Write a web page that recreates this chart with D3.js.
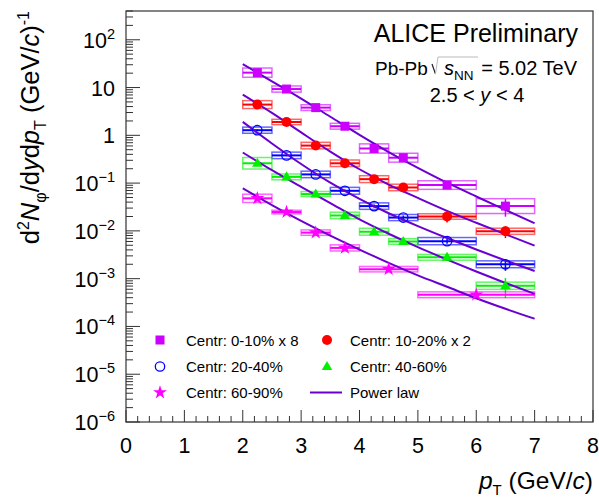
<!DOCTYPE html>
<html>
<head>
<meta charset="utf-8">
<script src="https://cdn.jsdelivr.net/npm/d3@7"></script>
<style>
  body { margin: 0; background: #fff; }
  svg text { font-family: "Liberation Sans", Arial, Helvetica, sans-serif; fill: #000; }
</style>
</head>
<body>
<svg id="chart" width="599" height="498"></svg>
<script>
// pT bins (GeV/c)
const binLo = [2.0, 2.5, 3.0, 3.5, 4.0, 4.5, 5.0, 6.0];
const binHi = [2.5, 3.0, 3.5, 4.0, 4.5, 5.0, 6.0, 7.0];
const ptC = [2.25, 2.75, 3.25, 3.75, 4.25, 4.75, 5.5, 6.5];
const binLo6090 = [2.0, 2.5, 3.0, 3.5, 4.0, 5.0];
const binHi6090 = [2.5, 3.0, 3.5, 4.0, 5.0, 7.0];
const ptC6090 = [2.25, 2.75, 3.25, 3.75, 4.5, 6.0];

// yields
const yield0010 = [20.5, 9.3, 3.8, 1.55, 0.53, 0.34, 0.091, 0.033];
const yield1020 = [4.4, 1.9, 0.61, 0.26, 0.121, 0.081, 0.020, 0.0098];
const yield2040 = [1.28, 0.38, 0.152, 0.069, 0.033, 0.019, 0.0061, 0.0020];
const yield4060 = [0.26, 0.135, 0.059, 0.021, 0.0096, 0.0060, 0.0028, 0.00071];
const yield6090 = [0.048, 0.0248, 0.0092, 0.0044, 0.00158, 0.00046];

// relative systematic (boxes) and statistical (bars) uncertainties
const sys0010 = [0.25, 0.16, 0.15, 0.15, 0.25, 0.24, 0.23, 0.43];
const sys1020 = [0.21, 0.14, 0.17, 0.17, 0.18, 0.17, 0.14, 0.16];
const sys2040 = [0.16, 0.17, 0.17, 0.18, 0.17, 0.16, 0.19, 0.18];
const sys4060 = [0.32, 0.15, 0.13, 0.17, 0.18, 0.15, 0.15, 0.19];
const sys6090 = [0.22, 0.09, 0.14, 0.16, 0.14, 0.15];
const stat0010 = [0.03, 0.03, 0.04, 0.05, 0.08, 0.1, 0.15, 0.4];
const stat1020 = [0.03, 0.03, 0.04, 0.05, 0.07, 0.1, 0.25, 0.28];
const stat2040 = [0.03, 0.04, 0.05, 0.06, 0.08, 0.1, 0.12, 0.27];
const stat4060 = [0.04, 0.05, 0.06, 0.08, 0.1, 0.12, 0.15, 0.45];
const stat6090 = [0.05, 0.06, 0.07, 0.09, 0.12, 0.15];

// power law fits, sampled
const plX = [2.0, 2.5, 3.0, 3.5, 4.0, 4.5, 5.0, 5.5, 6.0, 6.5, 7.0];
const pl0010 = [30.9, 13.5, 5.89, 2.45, 1.02, 0.447, 0.209, 0.102, 0.0525, 0.0275, 0.0145];
const pl1020 = [7.08, 2.95, 1.15, 0.457, 0.195, 0.0933, 0.049, 0.0263, 0.0148, 0.0085, 0.0049];
const pl2040 = [1.91, 0.676, 0.251, 0.102, 0.0468, 0.0234, 0.0126, 0.00708, 0.00407, 0.0024, 0.00145];
const pl4060 = [0.437, 0.186, 0.0832, 0.038, 0.0174, 0.0087, 0.00457, 0.00251, 0.00141, 0.000813, 0.000479];
const pl6090 = [0.0776, 0.0347, 0.0162, 0.00794, 0.00407, 0.00214, 0.00117, 0.000676, 0.000389, 0.000234, 0.000145];

const xTicks = [0, 1, 2, 3, 4, 5, 6, 7, 8];
const yTickExp = [-6, -5, -4, -3, -2, -1, 0, 1, 2];

const series = [
    {label: 'Centr: 0-10% x 8', color: '#cc00ff', marker: 'square', lo: binLo, hi: binHi, x: ptC, y: yield0010, sys: sys0010, stat: stat0010},
    {label: 'Centr: 10-20% x 2', color: '#ff0000', marker: 'circle', lo: binLo, hi: binHi, x: ptC, y: yield1020, sys: sys1020, stat: stat1020},
    {label: 'Centr: 20-40%', color: '#0000ff', marker: 'opencircle', lo: binLo, hi: binHi, x: ptC, y: yield2040, sys: sys2040, stat: stat2040},
    {label: 'Centr: 40-60%', color: '#00f000', marker: 'triangle', lo: binLo, hi: binHi, x: ptC, y: yield4060, sys: sys4060, stat: stat4060},
    {label: 'Centr: 60-90%', color: '#ff00ff', marker: 'star', lo: binLo6090, hi: binHi6090, x: ptC6090, y: yield6090, sys: sys6090, stat: stat6090}
];
const fits = [pl0010, pl1020, pl2040, pl4060, pl6090];
const fitColor = '#6a00d0';

const svg = d3.select('#chart');
const frame = {left: 126, right: 593, top: 11, bottom: 422};

const x = d3.scaleLinear().domain([0, 8]).range([frame.left, frame.right]);
const y = d3.scaleLog().domain([1e-6, 400]).range([frame.bottom, frame.top]);

// frame
svg.append('rect')
    .attr('x', frame.left).attr('y', frame.top)
    .attr('width', frame.right - frame.left).attr('height', frame.bottom - frame.top)
    .attr('fill', 'none').attr('stroke', '#333').attr('stroke-width', 1.2);

// x ticks
const xAxis = svg.append('g').attr('stroke', '#333').attr('stroke-width', 1);
d3.range(0, 8.0001, 0.2).forEach(v => {
    const major = Math.abs(v - Math.round(v)) < 1e-6;
    xAxis.append('line')
        .attr('x1', x(v)).attr('x2', x(v))
        .attr('y1', frame.bottom).attr('y2', frame.bottom - (major ? 12 : 6));
});
svg.append('g').selectAll('text')
    .data(xTicks)
    .enter()
    .append('text')
    .attr('x', d => x(d))
    .attr('y', 453)
    .attr('text-anchor', 'middle')
    .attr('font-size', 21.5)
    .text(d => d);

// y ticks
const yAxis = svg.append('g').attr('stroke', '#333').attr('stroke-width', 1);
yTickExp.forEach(e => {
    for (let m = 1; m <= 9; m++) {
        const v = m * Math.pow(10, e);
        if (v < 1e-6 || v > 400) continue;
        yAxis.append('line')
            .attr('x1', frame.left).attr('x2', frame.left + (m === 1 ? 14 : 7))
            .attr('y1', y(v)).attr('y2', y(v));
    }
});
const yLab = svg.append('g');
yTickExp.forEach(e => {
    const t = yLab.append('text')
        .attr('x', 115)
        .attr('y', y(Math.pow(10, e)) + 8)
        .attr('text-anchor', 'end')
        .attr('font-size', 21.5);
    if (e === 0) { t.text('1'); return; }
    if (e === 1) { t.text('10'); return; }
    t.append('tspan').text('10');
    t.append('tspan').attr('dy', -9).attr('font-size', 14.5).text(e < 0 ? '\u2212' + (-e) : e);
});

// axis titles
const xt = svg.append('text')
    .attr('x', 593).attr('y', 489)
    .attr('text-anchor', 'end')
    .attr('font-size', 24.5);
xt.append('tspan').attr('font-style', 'italic').text('p');
xt.append('tspan').attr('dy', 6).attr('font-size', 15).text('T');
xt.append('tspan').attr('dy', -6).text(' (GeV/');
xt.append('tspan').attr('font-style', 'italic').text('c');
xt.append('tspan').text(')');

const yt = svg.append('text')
    .attr('transform', 'translate(39, 11) rotate(-90)')
    .attr('text-anchor', 'end')
    .attr('font-size', 25.5);
yt.append('tspan').text('d');
yt.append('tspan').attr('dy', -10).attr('font-size', 16).text('2');
yt.append('tspan').attr('dy', 10).attr('font-style', 'italic').text('N');
yt.append('tspan').attr('dy', 7).attr('font-size', 16).text('\u03c6');
yt.append('tspan').attr('dy', -7).text('/d');
yt.append('tspan').attr('font-style', 'italic').text('y');
yt.append('tspan').text('d');
yt.append('tspan').attr('font-style', 'italic').text('p');
yt.append('tspan').attr('dy', 7).attr('font-size', 16).text('T');
yt.append('tspan').attr('dy', -7).text(' (GeV/');
yt.append('tspan').attr('font-style', 'italic').text('c');
yt.append('tspan').text(')');
yt.append('tspan').attr('dy', -10).attr('font-size', 16).text('-1');

// plot contents
const plot = svg.append('g');

// systematic boxes, x bars and stat bars
series.forEach(s => {
    const g = plot.append('g');
    g.selectAll('rect.sys')
        .data(s.y)
        .enter()
        .append('rect')
        .classed('sys', true)
        .attr('x', (d, i) => x(s.lo[i]))
        .attr('width', (d, i) => x(s.hi[i]) - x(s.lo[i]))
        .attr('y', (d, i) => y(d * (1 + s.sys[i])))
        .attr('height', (d, i) => y(d / (1 + s.sys[i])) - y(d * (1 + s.sys[i])))
        .attr('fill', 'none')
        .attr('stroke', s.color)
        .attr('stroke-opacity', 0.6)
        .attr('stroke-width', 1.5);
    g.selectAll('line.xerr')
        .data(s.y)
        .enter()
        .append('line')
        .classed('xerr', true)
        .attr('x1', (d, i) => x(s.lo[i]))
        .attr('x2', (d, i) => x(s.hi[i]))
        .attr('y1', d => y(d))
        .attr('y2', d => y(d))
        .attr('stroke', s.color)
        .attr('stroke-width', 2);
    g.selectAll('line.yerr')
        .data(s.y)
        .enter()
        .append('line')
        .classed('yerr', true)
        .attr('x1', (d, i) => x(s.x[i]))
        .attr('x2', (d, i) => x(s.x[i]))
        .attr('y1', (d, i) => y(d * (1 + s.stat[i])))
        .attr('y2', (d, i) => y(d * (1 - s.stat[i])))
        .attr('stroke', s.color)
        .attr('stroke-width', 1.5);
});

// power law curves
const line = d3.line()
    .x((d, i) => x(plX[i]))
    .y(d => y(d))
    .curve(d3.curveMonotoneX);
plot.selectAll('path.fit')
    .data(fits)
    .enter()
    .append('path')
    .classed('fit', true)
    .attr('d', d => line(d))
    .attr('fill', 'none')
    .attr('stroke', fitColor)
    .attr('stroke-width', 2);

// markers
const drawMarker = (g, type, color, cx, cy) => {
    switch (type) {
        case 'square':
            g.append('rect').attr('x', cx - 4.5).attr('y', cy - 4.5)
                .attr('width', 9).attr('height', 9).attr('fill', color);
            break;
        case 'circle':
            g.append('circle').attr('cx', cx).attr('cy', cy).attr('r', 5).attr('fill', color);
            break;
        case 'opencircle':
            g.append('circle').attr('cx', cx).attr('cy', cy).attr('r', 4.7)
                .attr('fill', 'none').attr('stroke', color).attr('stroke-width', 1.3);
            break;
        case 'triangle':
            g.append('path')
                .attr('d', d3.symbol().type(d3.symbolTriangle).size(48)())
                .attr('transform', `translate(${cx}, ${cy + 0.5})`)
                .attr('fill', color);
            break;
        case 'star':
            g.append('path')
                .attr('d', d3.symbol().type(d3.symbolStar).size(60)())
                .attr('transform', `translate(${cx}, ${cy})`)
                .attr('fill', color);
            break;
    }
};
series.forEach(s => {
    const g = plot.append('g');
    s.y.forEach((v, i) => drawMarker(g, s.marker, s.color, x(s.x[i]), y(v)));
});

// labels
svg.append('text').attr('x', 578).attr('y', 42)
    .attr('text-anchor', 'end').attr('font-size', 25)
    .text('ALICE Preliminary');

const energy = svg.append('g');
energy.append('text').attr('x', 375).attr('y', 75).attr('font-size', 19).text('Pb-Pb');
energy.append('path')
    .attr('d', 'M432,64 L435.5,74')
    .attr('fill', 'none').attr('stroke', '#222').attr('stroke-width', 1.2);
energy.append('path')
    .attr('d', 'M435.5,74 L438,57 L478,57')
    .attr('fill', 'none').attr('stroke', '#bbb').attr('stroke-width', 1);
const et = energy.append('text').attr('x', 444).attr('y', 75).attr('font-size', 20);
et.append('tspan').attr('font-style', 'italic').text('s');
et.append('tspan').attr('dy', 5).attr('font-size', 13.5).text('NN');
energy.append('text').attr('x', 577).attr('y', 75)
    .attr('text-anchor', 'end').attr('font-size', 20).text('= 5.02 TeV');

const rap = svg.append('text').attr('x', 477).attr('y', 102)
    .attr('text-anchor', 'middle').attr('font-size', 20);
rap.append('tspan').text('2.5 < ');
rap.append('tspan').attr('font-style', 'italic').text('y');
rap.append('tspan').text(' < 4');

// legend
const legendRows = [340, 366.5, 392.5];
const legendCols = [{m: 160, t: 186}, {m: 327, t: 350}];
const legendItems = [0, 1, 2, 3, 4].map(i => ({s: series[i], row: Math.floor(i / 2), col: i % 2}));
const legend = svg.append('g');
legendItems.forEach(it => {
    drawMarker(legend, it.s.marker, it.s.color, legendCols[it.col].m, legendRows[it.row]);
    legend.append('text')
        .attr('x', legendCols[it.col].t).attr('y', legendRows[it.row] + 5.5)
        .attr('font-size', 15).text(it.s.label);
});
legend.append('line')
    .attr('x1', 310).attr('x2', 342)
    .attr('y1', legendRows[2]).attr('y2', legendRows[2])
    .attr('stroke', fitColor).attr('stroke-width', 2);
legend.append('text')
    .attr('x', legendCols[1].t).attr('y', legendRows[2] + 5.5)
    .attr('font-size', 15).text('Power law');
</script>
</body>
</html>
